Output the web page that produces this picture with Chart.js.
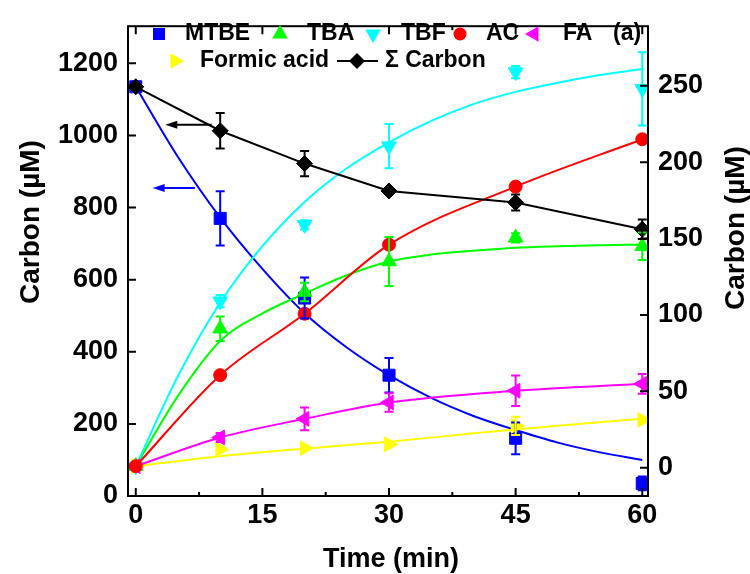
<!DOCTYPE html>
<html>
<head>
<meta charset="utf-8">
<script src="https://cdn.jsdelivr.net/npm/chart.js@4.4.1/dist/chart.umd.min.js"></script>
<style>
  html, body { margin: 0; padding: 0; background: #ffffff; }
  canvas { display: block; }
</style>
</head>
<body>
<canvas id="c" width="750" height="574"></canvas>
<script>
// Sampling times (min)
const times = [0, 10, 20, 30, 45, 60];

// Left axis, carbon (µM)
const mtbe      = [1135, 770, 549, 335, 160, 35];
const mtbeErr   = [0, 75, 57, 48, 44, 19];
const sigmaC    = [1135, 1013, 922, 846, 814, 740];
const sigmaErr  = [0, 49, 35, 8, 22, 27];

// Right axis, carbon (µM)
const tba       = [1, 91, 115, 135, 150.5, 145];
const tbaErr    = [0, 8, 6, 16, 3, 9];
const tbf       = [1, 109, 159, 210.5, 259, 248];
const tbfErr    = [0, 4, 3, 14.5, 4, 24];
const ac        = [1, 60.6, 100.8, 146, 184, 215];
const fa        = [1, 19.8, 32, 42.7, 50.4, 54.9];
const faErr     = [0, 3, 7.5, 6, 10, 6.5];
const formic    = [1, 12, 12.8, 15.3, 27.4, 31.3];
const formicErr = [0, 0, 0, 0, 6, 0];

// Kinetic fit curves
const fitTimes  = [0, 5, 10, 15, 20, 25, 30, 35, 40, 45, 50, 55, 60];
const mtbeFit   = [1135, 940, 772, 630, 507, 412, 335, 272, 222, 183, 148, 121, 100];
const tbaFit    = [1, 47, 83, 101, 114, 126, 135, 139.5, 142, 144, 145, 145.7, 146];
const tbfFit    = [1, 60, 108, 145, 174, 196, 213, 227, 238, 246, 252, 257, 261];
const formicFitTimes = [0, 10, 20, 30, 40, 50, 60];
const formicFit = [1, 7.5, 12.5, 17, 22.5, 27.5, 32];

// Tick labels
const xTicks  = [0, 15, 30, 45, 60];
const xMinor  = [7.5, 22.5, 37.5, 52.5];
const yTicks  = [0, 200, 400, 600, 800, 1000, 1200];
const y2Ticks = [0, 50, 100, 150, 200, 250];

const BLUE = '#0000ff', GREEN = '#00ff00', CYAN = '#00ffff', RED = '#ff0000',
      MAGENTA = '#ff00ff', YELLOW = '#ffff00', BLACK = '#000000';
const FONT = '"Liberation Sans", Arial, sans-serif';

const xy = (xs, ys) => xs.map((x, i) => ({ x, y: ys[i] }));

function lineSet(label, xs, ys, color, axis, curved, order) {
  return {
    label, data: xy(xs, ys), yAxisID: axis, showLine: true,
    borderColor: color, borderWidth: 2, pointRadius: 0,
    tension: curved ? 0.4 : 0, cubicInterpolationMode: curved ? 'monotone' : 'default',
    order, fill: false
  };
}
function pointSet(label, ys, errs, color, axis, style, radius, rotation, order, withLine) {
  return {
    label, data: xy(times, ys), yAxisID: axis, showLine: !!withLine,
    borderColor: color, backgroundColor: color, borderWidth: 2,
    pointStyle: style, pointRadius: radius, pointRotation: rotation || 0,
    pointBorderWidth: 1, pointBackgroundColor: color, pointBorderColor: color,
    tension: withLine === 'curve' ? 0.4 : 0,
    cubicInterpolationMode: withLine === 'curve' ? 'monotone' : 'default',
    errors: errs, order, fill: false
  };
}

const datasets = [
  lineSet('MTBE fit', fitTimes, mtbeFit, BLUE, 'y', true, 20),
  lineSet('TBA fit', fitTimes, tbaFit, GREEN, 'y2', true, 19),
  lineSet('TBF fit', fitTimes, tbfFit, CYAN, 'y2', true, 18),
  lineSet('Formic acid fit', formicFitTimes, formicFit, YELLOW, 'y2', true, 17),
  pointSet('MTBE', mtbe, mtbeErr, BLUE, 'y', 'rect', 8.5, 0, 10),
  pointSet('TBA', tba, tbaErr, GREEN, 'y2', 'triangle', 8.5, 0, 9),
  pointSet('TBF', tbf, tbfErr, CYAN, 'y2', 'triangle', 8.5, 180, 8),
  pointSet('Formic acid', formic, formicErr, YELLOW, 'y2', 'triangle', 8.5, 90, 7),
  pointSet('FA', fa, faErr, MAGENTA, 'y2', 'triangle', 8.5, 270, 6, 'curve'),
  pointSet('AC', ac, null, RED, 'y2', 'circle', 6.5, 0, 5, 'curve'),
  pointSet('\u03A3 Carbon', sigmaC, sigmaErr, BLACK, 'y', 'rectRot', 8, 0, 4, true)
];

// Draws a marker shape for the legend
function drawShape(ctx, shape, x, y, r, rot, color) {
  ctx.save();
  ctx.fillStyle = color;
  ctx.beginPath();
  if (shape === 'rect') {
    const s = Math.SQRT1_2 * r;
    ctx.rect(x - s, y - s, 2 * s, 2 * s);
  } else if (shape === 'circle') {
    ctx.arc(x, y, r, 0, Math.PI * 2);
  } else if (shape === 'rectRot') {
    ctx.moveTo(x, y - r); ctx.lineTo(x + r, y); ctx.lineTo(x, y + r); ctx.lineTo(x - r, y);
    ctx.closePath();
  } else {
    let a = rot * Math.PI / 180;
    for (let k = 0; k < 3; k++) {
      const px = x + Math.sin(a) * r, py = y - Math.cos(a) * r;
      k ? ctx.lineTo(px, py) : ctx.moveTo(px, py);
      a += 2 * Math.PI / 3;
    }
    ctx.closePath();
  }
  ctx.fill();
  ctx.restore();
}

const errorBars = {
  id: 'errorBars',
  afterDatasetsDraw(chart) {
    const ctx = chart.ctx;
    chart.data.datasets.forEach((ds, i) => {
      if (!ds.errors) return;
      const meta = chart.getDatasetMeta(i);
      const sc = chart.scales[ds.yAxisID];
      ctx.save();
      ctx.strokeStyle = ds.borderColor;
      ctx.lineWidth = 2;
      meta.data.forEach((pt, j) => {
        const e = ds.errors[j];
        if (!e) return;
        const v = ds.data[j].y;
        const top = sc.getPixelForValue(v + e), bot = sc.getPixelForValue(v - e);
        const x = pt.x, w = 4.5;
        ctx.beginPath();
        ctx.moveTo(x, top); ctx.lineTo(x, bot);
        ctx.moveTo(x - w, top); ctx.lineTo(x + w, top);
        ctx.moveTo(x - w, bot); ctx.lineTo(x + w, bot);
        ctx.stroke();
      });
      ctx.restore();
    });
  }
};

// Frame, inward ticks, axis titles, arrows and legend
const decorations = {
  id: 'decorations',
  afterDraw(chart) {
    const ctx = chart.ctx, a = chart.chartArea;
    const sx = chart.scales.x, sy = chart.scales.y, sy2 = chart.scales.y2;
    ctx.save();
    ctx.strokeStyle = BLACK;
    ctx.lineWidth = 2;
    ctx.strokeRect(a.left, a.top, a.right - a.left, a.bottom - a.top);
    ctx.beginPath();
    xTicks.forEach(v => {
      const x = sx.getPixelForValue(v);
      ctx.moveTo(x, a.bottom); ctx.lineTo(x, a.bottom - 8);
      ctx.moveTo(x, a.top); ctx.lineTo(x, a.top + 8);
    });
    xMinor.forEach(v => {
      const x = sx.getPixelForValue(v);
      ctx.moveTo(x, a.bottom); ctx.lineTo(x, a.bottom - 4);
      ctx.moveTo(x, a.top); ctx.lineTo(x, a.top + 4);
    });
    yTicks.forEach(v => {
      const y = sy.getPixelForValue(v);
      ctx.moveTo(a.left, y); ctx.lineTo(a.left + 8, y);
    });
    y2Ticks.forEach(v => {
      const y = sy2.getPixelForValue(v);
      ctx.moveTo(a.right, y); ctx.lineTo(a.right - 8, y);
    });
    ctx.stroke();

    // arrows showing which axis the curves belong to
    const arrow = (t0, t1, v, color) => {
      const x0 = sx.getPixelForValue(t0), x1 = sx.getPixelForValue(t1), y = sy.getPixelForValue(v);
      ctx.strokeStyle = color; ctx.fillStyle = color; ctx.lineWidth = 2;
      ctx.beginPath(); ctx.moveTo(x0, y); ctx.lineTo(x1 + 8, y); ctx.stroke();
      ctx.beginPath(); ctx.moveTo(x1, y); ctx.lineTo(x1 + 12, y - 4); ctx.lineTo(x1 + 12, y + 4);
      ctx.closePath(); ctx.fill();
    };
    arrow(9.0, 3.5, 1030, BLACK);
    arrow(7.0, 2.0, 854, BLUE);

    // axis titles
    ctx.fillStyle = BLACK;
    ctx.font = 'bold 27px ' + FONT;
    ctx.textAlign = 'center';
    ctx.textBaseline = 'alphabetic';
    ctx.fillText('Time (min)', 391, 567);
    ctx.font = 'bold 28px ' + FONT;
    ctx.save();
    ctx.translate(39, 222); ctx.rotate(-Math.PI / 2);
    ctx.fillText('Carbon (\u00B5M)', 0, 0);
    ctx.restore();
    ctx.save();
    ctx.translate(744, 228); ctx.rotate(-Math.PI / 2);
    ctx.fillText('Carbon (\u00B5M)', 0, 0);
    ctx.restore();

    // legend
    ctx.font = 'bold 23px ' + FONT;
    ctx.textAlign = 'left';
    ctx.textBaseline = 'middle';
    const items = [
      { text: 'MTBE', shape: 'rect', r: 8.5, rot: 0, color: BLUE, mx: 159, tx: 185, y: 34 },
      { text: 'TBA', shape: 'triangle', r: 9, rot: 0, color: GREEN, mx: 280, tx: 307, y: 34 },
      { text: 'TBF', shape: 'triangle', r: 9, rot: 180, color: CYAN, mx: 373, tx: 401, y: 34 },
      { text: 'AC', shape: 'circle', r: 6.5, rot: 0, color: RED, mx: 460, tx: 486, y: 34 },
      { text: 'FA', shape: 'triangle', r: 9, rot: 270, color: MAGENTA, mx: 534, tx: 563, y: 34 },
      { text: 'Formic acid', shape: 'triangle', r: 9, rot: 90, color: YELLOW, mx: 175, tx: 200, y: 61 },
      { text: '\u03A3 Carbon', shape: 'rectRot', r: 8, rot: 0, color: BLACK, mx: 357, tx: 385, y: 61, line: [337, 378] }
    ];
    items.forEach(it => {
      if (it.line) {
        ctx.strokeStyle = it.color; ctx.lineWidth = 2;
        ctx.beginPath(); ctx.moveTo(it.line[0], it.y); ctx.lineTo(it.line[1], it.y); ctx.stroke();
      }
      drawShape(ctx, it.shape, it.mx, it.y, it.r, it.rot, it.color);
      ctx.fillStyle = BLACK;
      ctx.fillText(it.text, it.tx, it.y);
    });
    ctx.fillText('(a)', 613, 34);
    ctx.restore();
  }
};

const tickFont = { family: FONT, size: 27, weight: 'bold' };
const plain = v => String(v);

new Chart(document.getElementById('c'), {
  type: 'scatter',
  data: { datasets },
  options: {
    responsive: false,
    animation: false,
    devicePixelRatio: 1,
    layout: { padding: { top: 14, left: 0, right: 0, bottom: 0 } },
    plugins: { legend: { display: false }, tooltip: { enabled: false } },
    scales: {
      x: {
        type: 'linear', position: 'bottom', min: -0.92, max: 60.68,
        grid: { display: false, drawTicks: false }, border: { display: false },
        ticks: { font: tickFont, color: BLACK, padding: 3, maxRotation: 0, callback: plain },
        afterBuildTicks: s => { s.ticks = xTicks.map(v => ({ value: v })); },
        afterFit: s => { s.height = 78; }
      },
      y: {
        type: 'linear', position: 'left', min: 0, max: 1303,
        grid: { display: false, drawTicks: false }, border: { display: false },
        ticks: { font: tickFont, color: BLACK, padding: 10, callback: plain },
        afterBuildTicks: s => { s.ticks = yTicks.map(v => ({ value: v })); },
        afterFit: s => { s.width = 128; }
      },
      y2: {
        type: 'linear', position: 'right', min: -18.5, max: 289,
        grid: { display: false, drawTicks: false }, border: { display: false },
        ticks: { font: tickFont, color: BLACK, padding: 10, callback: plain },
        afterBuildTicks: s => { s.ticks = y2Ticks.map(v => ({ value: v })); },
        afterFit: s => { s.width = 102; }
      }
    }
  },
  plugins: [errorBars, decorations]
});
</script>
</body>
</html>
